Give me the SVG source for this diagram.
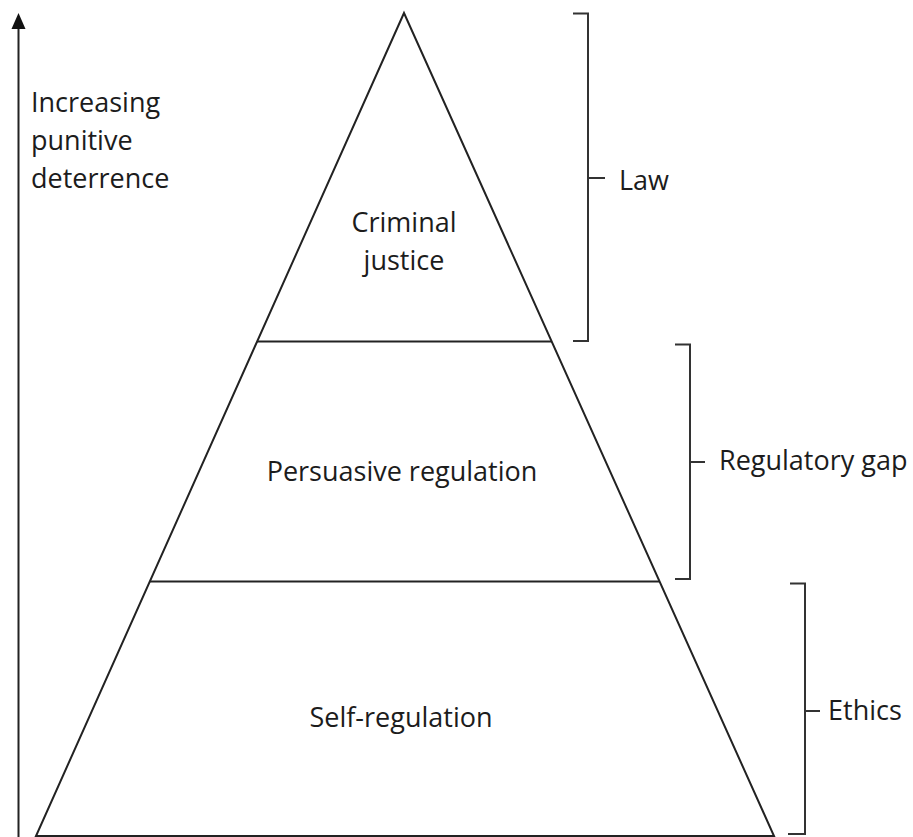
<svg xmlns="http://www.w3.org/2000/svg" width="913" height="837" viewBox="0 0 913 837">
<style>
.ln{fill:none;stroke:#222;stroke-width:2;stroke-linejoin:miter}
.br{fill:none;stroke:#333;stroke-width:2}
text{font-family:"Open Sans","Liberation Sans",sans-serif;font-size:27px;fill:#1c1c1c}
.c{text-anchor:middle}
</style>
<rect width="913" height="837" fill="#fff"/>
<g id="axis">
<line class="ln" x1="18.5" y1="26" x2="18.5" y2="837"/>
<polygon points="18.5,13 11.5,29 25.5,29" fill="#111"/>
<text x="31" y="112">Increasing</text>
<text x="31" y="150">punitive</text>
<text x="31" y="188">deterrence</text>
</g>
<g id="pyramid">
<polygon class="ln" points="404,13 36,836 774,836"/>
</g>
<g id="criminal-justice">
<line class="ln" x1="257" y1="341.5" x2="552" y2="341.5"/>
<text class="c" x="404" y="232">Criminal</text>
<text class="c" x="404" y="270">justice</text>
</g>
<g id="persuasive-regulation">
<line class="ln" x1="150" y1="581.5" x2="660" y2="581.5"/>
<text class="c" x="402" y="481">Persuasive regulation</text>
</g>
<g id="self-regulation">
<text class="c" x="401" y="727">Self-regulation</text>
</g>
<g id="connectors">
<path class="br" d="M573,13.5 H588 V341 H573"/>
<path class="br" d="M588,178 H605"/>
<path class="br" d="M675,344.5 H690 V579 H675"/>
<path class="br" d="M690,462 H705"/>
<path class="br" d="M790,583.5 H805 V834 H788"/>
<path class="br" d="M805,711 H820"/>
</g>
<g id="law"><text x="619" y="190">Law</text></g>
<g id="regulatory-gap"><text x="719" y="470">Regulatory gap</text></g>
<g id="ethics"><text x="828" y="720">Ethics</text></g>
</svg>
